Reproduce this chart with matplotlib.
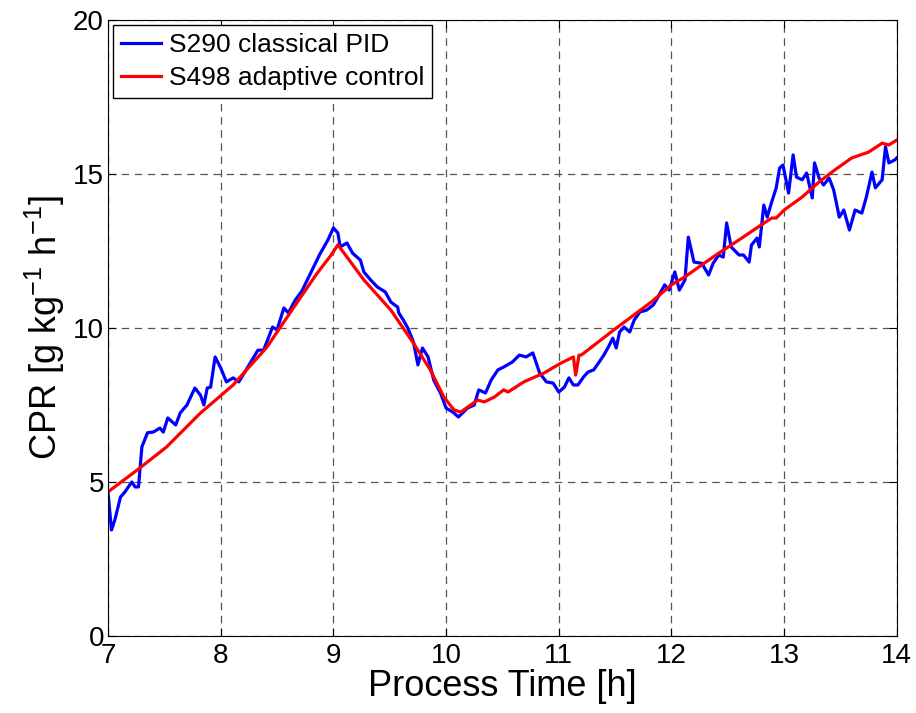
import matplotlib
matplotlib.use("Agg")
import matplotlib.pyplot as plt

plt.rcParams['font.family'] = ['Liberation Sans', 'DejaVu Sans']
plt.rcParams['mathtext.default'] = 'regular'
plt.rcParams['axes.unicode_minus'] = False

# S290 classical PID (blue)
t_pid = [7.0, 7.03, 7.06, 7.11, 7.15, 7.21, 7.24, 7.27, 7.30, 7.35, 7.40, 7.46, 7.49,
         7.53, 7.60, 7.64, 7.70, 7.77, 7.82, 7.85, 7.88, 7.91, 7.95, 8.0, 8.05, 8.11,
         8.16, 8.24, 8.33, 8.38, 8.46, 8.50, 8.56, 8.60, 8.66, 8.72, 8.80, 8.88, 8.95,
         9.0, 9.04, 9.06, 9.12, 9.17, 9.24, 9.27, 9.33, 9.39, 9.46, 9.51, 9.57, 9.58,
         9.62, 9.66, 9.71, 9.75, 9.79, 9.84, 9.89, 9.95, 10.0, 10.06, 10.11, 10.19,
         10.25, 10.29, 10.35, 10.40, 10.46, 10.51, 10.59, 10.65, 10.71, 10.77, 10.83,
         10.89, 10.95, 11.0, 11.05, 11.09, 11.13, 11.17, 11.22, 11.26, 11.31, 11.36,
         11.40, 11.44, 11.48, 11.51, 11.54, 11.58, 11.63, 11.67, 11.72, 11.78, 11.84,
         11.88, 11.94, 11.98, 12.03, 12.07, 12.12, 12.15, 12.20, 12.27, 12.33, 12.37,
         12.42, 12.46, 12.49, 12.53, 12.60, 12.64, 12.69, 12.71, 12.76, 12.78, 12.82,
         12.85, 12.89, 12.93, 12.96, 12.99, 13.04, 13.08, 13.11, 13.16, 13.20, 13.25,
         13.27, 13.31, 13.35, 13.40, 13.44, 13.49, 13.53, 13.58, 13.63, 13.69, 13.73,
         13.78, 13.81, 13.87, 13.90, 13.93, 13.98, 14.0]
cpr_pid = [4.64, 3.44, 3.77, 4.51, 4.68, 5.0, 4.84, 4.84, 6.14, 6.6, 6.62, 6.75, 6.62,
           7.08, 6.85, 7.24, 7.5, 8.05, 7.82, 7.5, 8.05, 8.08, 9.06, 8.7, 8.25, 8.38,
           8.25, 8.73, 9.28, 9.28, 10.03, 9.94, 10.65, 10.49, 10.9, 11.2, 11.8, 12.4, 12.85,
           13.25, 13.08, 12.63, 12.76, 12.43, 12.2, 11.82, 11.56, 11.33, 11.17, 10.84,
           10.68, 10.49, 10.26, 10.0, 9.55, 8.8, 9.35, 9.06, 8.31, 7.89, 7.4, 7.27, 7.11,
           7.4, 7.5, 7.99, 7.89, 8.31, 8.64, 8.73, 8.9, 9.12, 9.06, 9.19, 8.54, 8.25,
           8.21, 7.92, 8.08, 8.38, 8.15, 8.15, 8.41, 8.57, 8.64, 8.9, 9.12, 9.38, 9.67,
           9.35, 9.87, 10.03, 9.87, 10.26, 10.52, 10.58, 10.75, 11.0, 11.4, 11.23, 11.82,
           11.23, 11.56, 12.95, 12.14, 12.1, 11.72, 12.1, 12.37, 12.3, 13.41, 12.63,
           12.37, 12.37, 12.14, 12.69, 12.92, 12.63, 13.99, 13.6, 14.09, 14.55, 15.19,
           15.29, 14.38, 15.62, 14.9, 14.81, 15.03, 14.22, 15.36, 14.87, 14.64, 14.87,
           14.48, 13.6, 13.83, 13.18, 13.83, 13.73, 14.25, 15.06, 14.55, 14.81, 15.88,
           15.36, 15.45, 15.52]

# S498 adaptive control (red)
t_ad = [7.0, 7.28, 7.52, 7.82, 8.11, 8.41, 8.65, 8.85, 8.98, 9.04, 9.27, 9.51, 9.71,
        9.86, 9.98, 10.07, 10.13, 10.28, 10.34, 10.43, 10.51, 10.55, 10.69, 10.87,
        11.02, 11.13, 11.15, 11.18, 11.2, 11.49, 11.82, 12.0, 12.12, 12.27, 12.42,
        12.60, 12.77, 12.89, 12.93, 13.0, 13.16, 13.31, 13.45, 13.60, 13.75, 13.87,
        13.93, 14.0]
cpr_ad = [4.68, 5.45, 6.14, 7.24, 8.15, 9.38, 10.68, 11.75, 12.37, 12.7, 11.56, 10.58,
          9.51, 8.64, 7.76, 7.34, 7.27, 7.66, 7.6, 7.76, 7.99, 7.92, 8.25, 8.54, 8.86,
          9.06, 8.47, 9.12, 9.12, 9.94, 10.84, 11.4, 11.66, 12.05, 12.43, 12.86, 13.28,
          13.57, 13.57, 13.83, 14.25, 14.74, 15.13, 15.52, 15.71, 16.0, 15.94, 16.1]

fig = plt.figure(figsize=(9.16, 7.13), dpi=100)
ax = fig.add_axes([0.118, 0.108, 0.861, 0.864])

ax.plot(t_pid, cpr_pid, color='#0000ff', lw=2.3, label='S290 classical PID')
ax.plot(t_ad, cpr_ad, color='#ff0000', lw=2.3, label='S498 adaptive control')

ax.set_xlim(7, 14)
ax.set_ylim(0, 20)
ax.set_xticks(range(7, 15))
ax.set_yticks([0, 5, 10, 15, 20])
ax.grid(True, color='#555555', linestyle=(0, (6, 4.5)), linewidth=0.9)
ax.tick_params(direction='in', labelsize=20, length=6, pad=3, top=True, right=True)
ax.tick_params(axis='x', pad=5)
ax.set_xlabel('Process Time [h]', fontsize=26, labelpad=0)
ax.set_ylabel('CPR [g kg$^{-1}$ h$^{-1}$]', fontsize=26, labelpad=4)

leg = ax.legend(loc='upper left', fontsize=19, fancybox=False, framealpha=1,
                edgecolor='black', handlelength=1.5, borderaxespad=0.2,
                borderpad=0.3, labelspacing=0.35, handletextpad=0.3)
leg.get_frame().set_linewidth(1.0)

fig.savefig('out.png', dpi=100)
